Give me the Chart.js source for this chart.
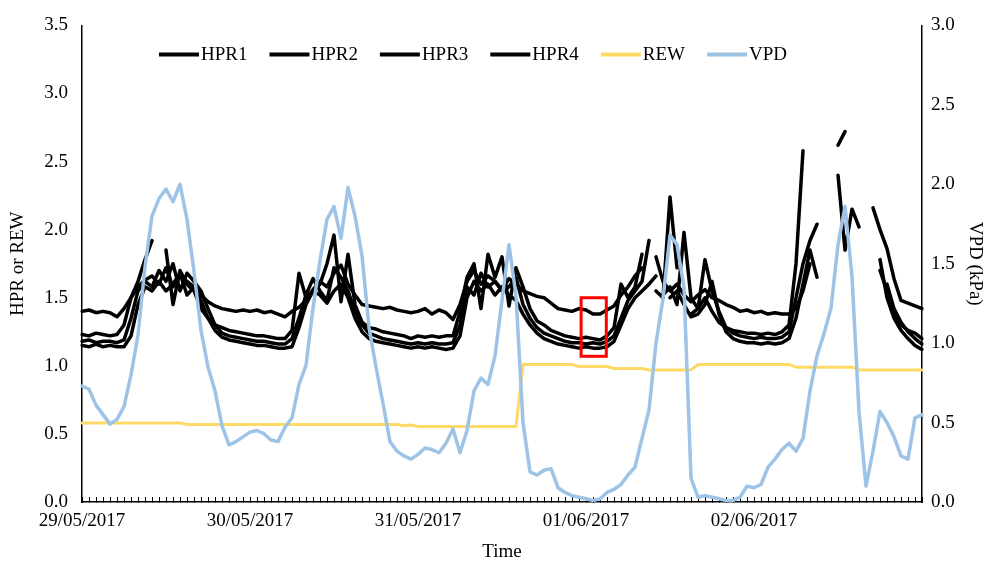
<!DOCTYPE html>
<html><head><meta charset="utf-8">
<script src="https://cdn.jsdelivr.net/npm/chart.js@4/dist/chart.umd.min.js"></script>
<style>html,body{margin:0;padding:0;background:#fff;}#wrap{width:993px;height:563px;}</style>
</head><body><div id="wrap"><canvas id="c" width="993" height="563"></canvas></div>
<script>
// ---------- DATA ----------
const dayLabels = ['29/05/2017','30/05/2017','31/05/2017','01/06/2017','02/06/2017','03/06/2017'];
const hourLabels = ['00:00','01:00','02:00','03:00','04:00','05:00','06:00','07:00','08:00','09:00','10:00','11:00',
  '12:00','13:00','14:00','15:00','16:00','17:00','18:00','19:00','20:00','21:00','22:00','23:00'];

const hpr1 = [
  1.40,1.41,1.39,1.40,1.39,1.36,1.42,1.50,1.58,1.63,1.66,1.60,
  1.72,1.58,1.66,1.62,1.58,1.52,1.47,1.44,1.42,1.41,1.40,1.41,
  1.40,1.41,1.39,1.40,1.38,1.36,1.40,1.43,1.48,1.56,1.62,1.58,
  1.68,1.74,1.60,1.52,1.45,1.44,1.43,1.42,1.43,1.41,1.40,1.39,
  1.40,1.42,1.38,1.41,1.39,1.34,1.45,1.62,1.70,1.60,1.66,1.62,
  1.56,1.64,1.60,1.55,1.53,1.51,1.50,1.46,1.42,1.41,1.40,1.42,
  1.41,1.38,1.38,1.41,1.44,1.52,1.58,1.66,1.72,null,1.80,1.62,
  1.55,1.60,1.52,1.47,1.52,1.56,1.50,1.48,1.45,1.43,1.40,1.41,
  1.39,1.40,1.38,1.39,1.38,1.38,1.42,1.55,1.75,null,null,null,
  null,null,null,null,null,2.16,2.00,1.86,1.64,1.48,1.46,1.44,1.42
];
const hpr2 = [
  1.23,1.22,1.24,1.23,1.22,1.23,1.30,1.50,1.62,1.78,1.92,null,
  1.85,1.45,1.70,1.60,1.55,1.42,1.35,1.30,1.28,1.26,1.25,1.24,
  1.23,1.22,1.22,1.21,1.20,1.20,1.26,1.68,1.50,1.55,1.60,1.75,
  1.96,1.47,1.82,1.45,1.32,1.28,1.27,1.25,1.24,1.23,1.22,1.20,
  1.22,1.21,1.22,1.21,1.22,1.22,1.40,1.65,1.75,1.42,1.82,1.65,
  1.80,1.44,1.72,1.58,1.42,1.33,1.30,1.26,1.24,1.22,1.21,1.20,
  1.21,1.20,1.19,1.22,1.28,1.60,1.50,1.58,1.82,null,1.55,1.50,
  2.24,1.72,null,1.38,1.42,1.50,1.40,1.32,1.28,1.26,1.25,1.24,
  1.24,1.23,1.24,1.23,1.25,1.30,1.75,2.58,null,null,null,null,
  2.62,2.72,null,null,null,null,1.70,1.55,1.38,1.30,1.26,1.24,1.20
];
const hpr3 = [
  1.18,1.19,1.17,1.18,1.18,1.17,1.19,1.35,1.55,1.62,1.58,1.70,
  1.62,1.75,1.55,1.68,1.62,1.55,1.42,1.30,1.24,1.22,1.21,1.20,
  1.19,1.18,1.18,1.17,1.16,1.16,1.20,1.35,1.52,1.64,1.55,1.48,
  1.72,1.65,1.55,1.40,1.30,1.24,1.22,1.20,1.19,1.18,1.17,1.16,
  1.17,1.16,1.17,1.16,1.16,1.17,1.30,1.58,1.52,1.68,1.58,1.62,
  1.55,1.58,1.65,1.45,1.35,1.28,1.24,1.22,1.20,1.18,1.17,1.17,
  1.16,1.17,1.16,1.18,1.22,1.35,1.48,1.55,1.62,1.92,null,1.52,
  1.58,1.45,1.98,1.50,1.42,1.78,1.55,1.40,1.28,1.24,1.22,1.21,
  1.20,1.21,1.20,1.20,1.21,1.25,1.50,1.75,1.92,2.04,null,null,
  2.40,1.85,2.15,2.02,null,null,null,1.60,1.42,1.32,1.25,1.20,1.16
];
const hpr4 = [
  1.15,1.14,1.16,1.14,1.15,1.14,1.14,1.22,1.45,1.58,1.55,1.62,
  1.55,1.60,1.68,1.52,1.58,1.48,1.35,1.26,1.21,1.19,1.18,1.17,
  1.16,1.15,1.15,1.14,1.13,1.13,1.14,1.28,1.45,1.55,1.52,1.46,
  1.55,1.60,1.50,1.35,1.25,1.20,1.18,1.17,1.16,1.15,1.14,1.13,
  1.14,1.13,1.14,1.13,1.12,1.13,1.22,1.50,1.62,1.55,1.60,1.52,
  1.58,1.52,1.48,1.38,1.30,1.24,1.20,1.18,1.16,1.15,1.14,1.13,
  1.14,1.13,1.13,1.14,1.18,1.30,1.42,1.50,1.55,1.60,1.66,null,
  1.50,1.55,1.45,1.36,1.38,1.45,1.62,1.38,1.25,1.20,1.18,1.17,
  1.17,1.16,1.17,1.16,1.17,1.20,1.35,1.60,1.85,1.65,null,null,
  null,null,null,null,null,null,1.78,1.50,1.35,1.26,1.20,1.15,1.12
];
const rew = [
  0.58,0.58,0.58,0.58,0.58,0.58,0.58,0.58,0.58,0.58,0.58,0.58,
  0.58,0.58,0.58,0.57,0.57,0.57,0.57,0.57,0.57,0.57,0.57,0.57,
  0.57,0.57,0.57,0.57,0.57,0.57,0.57,0.57,0.57,0.57,0.57,0.57,
  0.57,0.57,0.57,0.57,0.57,0.57,0.57,0.57,0.57,0.57,0.56,0.565,
  0.555,0.555,0.555,0.555,0.555,0.555,0.555,0.555,0.555,0.555,0.555,0.555,
  0.555,0.555,0.555,1.01,1.01,1.01,1.01,1.01,1.01,1.01,1.01,0.995,
  0.995,0.995,0.995,0.995,0.98,0.98,0.98,0.98,0.98,0.97,0.97,0.97,
  0.97,0.97,0.97,0.97,1.01,1.01,1.01,1.01,1.01,1.01,1.01,1.01,
  1.01,1.01,1.01,1.01,1.01,1.01,0.99,0.99,0.99,0.99,0.99,0.99,
  0.99,0.99,0.99,0.97,0.97,0.97,0.97,0.97,0.97,0.97,0.97,0.97,0.97
];
const vpd = [
  0.73,0.71,0.61,0.55,0.49,0.52,0.60,0.80,1.05,1.48,1.80,1.91,
  1.97,1.89,2.00,1.78,1.45,1.08,0.85,0.70,0.48,0.36,0.38,0.41,
  0.44,0.45,0.43,0.39,0.38,0.47,0.53,0.74,0.86,1.22,1.52,1.78,
  1.86,1.66,1.98,1.80,1.55,1.10,0.85,0.62,0.38,0.32,0.29,0.27,
  0.30,0.34,0.33,0.31,0.37,0.46,0.31,0.45,0.70,0.78,0.74,0.92,
  1.27,1.62,1.30,0.50,0.19,0.17,0.20,0.21,0.09,0.06,0.04,0.03,
  0.02,0.01,0.02,0.06,0.08,0.11,0.17,0.22,0.40,0.58,1.00,1.28,
  1.68,1.62,1.35,0.15,0.03,0.04,0.03,0.02,0.01,0.01,0.03,0.10,
  0.09,0.11,0.22,0.27,0.33,0.37,0.32,0.40,0.70,0.92,1.06,1.22,
  1.62,1.86,1.42,0.57,0.10,0.32,0.57,0.50,0.41,0.29,0.27,0.53,0.55
];
const leftTicks = {min: 0, max: 3.5, step: 0.5};
const rightTicks = {min: 0, max: 3.0, step: 0.5};
// highlighted window (hours from start, HPR/REW values)
const boxHours = [71.3, 74.9];
const boxValues = [1.07, 1.50];

// categories: hourly time stamps
const categories = [];
for (let d = 0; d < 5; d++) for (const h of hourLabels) categories.push(dayLabels[d] + ' ' + h);
categories.push(dayLabels[5] + ' ' + hourLabels[0]);

// ---------- CHART ----------
const FONT = {family: "'Liberation Serif', 'Times New Roman', serif", size: 19};
Chart.defaults.font.family = FONT.family;
Chart.defaults.font.size = FONT.size;
Chart.defaults.color = '#000';

function line(label, data, color, width, axis, order) {
  return {label, data, borderColor: color, backgroundColor: color, borderWidth: width,
    pointRadius: 0, pointHoverRadius: 0, tension: 0, spanGaps: false, yAxisID: axis, order,
    borderJoinStyle: 'round', borderCapStyle: 'round', fill: false};
}

const redBox = {
  id: 'redBox',
  afterDatasetsDraw(chart) {
    const {ctx, scales: {x, y}} = chart;
    const x0 = x.getPixelForValue(boxHours[0]), x1 = x.getPixelForValue(boxHours[1]);
    const y0 = y.getPixelForValue(boxValues[1]), y1 = y.getPixelForValue(boxValues[0]);
    ctx.save();
    ctx.strokeStyle = '#FF0000';
    ctx.lineWidth = 3;
    ctx.strokeRect(x0, y0, x1 - x0, y1 - y0);
    ctx.restore();
  }
};

// in-plot horizontal legend (line sample + label), like the reference
const lineLegend = {
  id: 'lineLegend',
  afterDraw(chart) {
    const {ctx, chartArea} = chart;
    ctx.save();
    ctx.font = FONT.size + 'px ' + FONT.family;
    ctx.textBaseline = 'middle';
    ctx.textAlign = 'left';
    const sample = 40, gapText = 2, gapItem = 22;
    const items = chart.data.datasets.map(ds => ({label: ds.label, color: ds.borderColor, w: ctx.measureText(ds.label).width}));
    const total = items.reduce((s, it) => s + sample + gapText + it.w, 0) + gapItem * (items.length - 1);
    const centerX = chartArea.left + 391;
    let x = centerX - total / 2;
    const y = chartArea.top + 29;
    items.forEach(it => {
      ctx.strokeStyle = it.color;
      ctx.lineWidth = 4;
      ctx.lineCap = 'butt';
      ctx.beginPath(); ctx.moveTo(x, y); ctx.lineTo(x + sample, y); ctx.stroke();
      ctx.fillStyle = '#000';
      ctx.fillText(it.label, x + sample + gapText, y + 1);
      x += sample + gapText + it.w + gapItem;
    });
    ctx.restore();
  }
};

new Chart(document.getElementById('c'), {
  type: 'line',
  data: {
    labels: categories,
    datasets: [
      line('HPR1', hpr1, '#000000', 3.5, 'y', 5),
      line('HPR2', hpr2, '#000000', 3.5, 'y', 4),
      line('HPR3', hpr3, '#000000', 3.5, 'y', 3),
      line('HPR4', hpr4, '#000000', 3.5, 'y', 2),
      line('REW', rew, '#FFD966', 3, 'y', 1),
      line('VPD', vpd, '#9DC3E6', 3.5, 'y1', 0)
    ]
  },
  options: {
    responsive: false,
    devicePixelRatio: 1,
    animation: false,
    layout: {padding: {top: 17, left: 0, right: 0, bottom: 0}},
    plugins: {
      tooltip: {enabled: false},
      legend: {display: false}
    },
    scales: {
      x: {
        type: 'category',
        offset: false,
        grid: {display: true, drawOnChartArea: false, drawTicks: true, tickLength: -5, color: '#000', tickColor: '#000', tickWidth: 1},
        border: {display: true, color: '#000', width: 1.5},
        ticks: {
          autoSkip: false, maxRotation: 0, minRotation: 0, padding: 13, color: '#000', font: FONT,
          callback: (v, i) => (i % 24 === 0 && i < categories.length - 1) ? categories[i].slice(0, 10) : ''
        },
        title: {display: true, text: 'Time', color: '#000', font: FONT, padding: {top: 0, bottom: 0}},
        afterFit: s => { s.height = 61; }
      },
      y: {
        type: 'linear', position: 'left', min: leftTicks.min, max: leftTicks.max,
        grid: {display: false, drawTicks: false},
        border: {display: true, color: '#000', width: 1.5},
        ticks: {stepSize: leftTicks.step, padding: 14, color: '#000', font: FONT, callback: v => Number(v).toFixed(1)},
        title: {display: true, text: 'HPR or REW', color: '#000', font: FONT, padding: {top: 7, bottom: 0}},
        afterFit: s => { s.width = 82; }
      },
      y1: {
        type: 'linear', position: 'right', min: rightTicks.min, max: rightTicks.max,
        grid: {display: false, drawTicks: false},
        border: {display: true, color: '#000', width: 1.5},
        ticks: {stepSize: rightTicks.step, padding: 9, color: '#000', font: FONT, callback: v => Number(v).toFixed(1)},
        title: {display: true, text: 'VPD (kPa)', color: '#000', font: FONT, padding: {top: 7, bottom: 0}},
        afterFit: s => { s.width = 71; }
      }
    }
  },
  plugins: [redBox, lineLegend]
});
</script>
</body></html>
